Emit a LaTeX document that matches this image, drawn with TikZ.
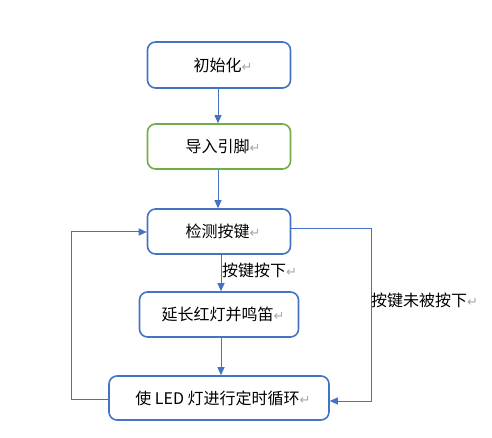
\documentclass[tikz,border=0pt]{standalone}
\usepackage{fontspec}
\setmainfont{Noto Sans CJK SC}
\newfontfamily\symfont{DejaVu Sans}
\usetikzlibrary{arrows.meta}
\definecolor{wblue}{HTML}{4472C4}
\definecolor{wgreen}{HTML}{70AD47}
\newcommand{\pmark}{{\symfont\color{gray!70}\fontsize{13pt}{13pt}\selectfont ↵}}
\begin{document}
\begin{tikzpicture}[x=1pt,y=-1pt,
  box/.style={draw=wblue,line width=1.6pt,rounded corners=8pt,inner sep=0pt,font=\fontsize{16pt}{16pt}\selectfont},
  gbox/.style={box,draw=wgreen},
  conn/.style={draw=wblue,line width=1pt,-{Triangle[length=8pt,width=7pt]}},
  lbl/.style={inner sep=0pt,font=\fontsize{16pt}{16pt}\selectfont,anchor=west}]
\useasboundingbox (0,0) rectangle (492,438);
\node[box,minimum width=143pt,minimum height=46pt] (b1) at (219,65) {\hspace*{8pt}初始化\pmark};
\node[gbox,minimum width=143pt,minimum height=45pt] (b2) at (219,146.5) {\hspace*{8pt}导入引脚\pmark};
\node[box,minimum width=143pt,minimum height=45pt] (b3) at (219,231.5) {\hspace*{8pt}检测按键\pmark};
\node[box,minimum width=159pt,minimum height=45pt] (b4) at (219,314.5) {\hspace*{8pt}延长红灯并鸣笛\pmark};
\node[box,minimum width=220pt,minimum height=44pt] (b5) at (219,398) {\hspace*{8pt}使 LED 灯进行定时循环\pmark};
\coordinate (m1) at (218,0);
\coordinate (m2) at (221,0);
\coordinate (l1) at (71,399);
\coordinate (l2) at (71,232);
\coordinate (r1) at (371,229);
\coordinate (r2) at (371,401);
\draw[conn] (m1 |- b1.south) -- (m1 |- b2.north);
\draw[conn] (m1 |- b2.south) -- (m1 |- b3.north);
\draw[conn] (m2 |- b3.south) -- (m2 |- b4.north);
\draw[conn] (m2 |- b4.south) -- (m2 |- b5.north);
\draw[conn] (b5.west |- l1) -- (l1) -- (l2) -- (b3.west |- l2);
\draw[conn] (b3.east |- r1) -- (r1) -- (r2) -- (b5.east |- r2);
\node[lbl] (t1) at (222,270) {按键按下\pmark};
\node[lbl] (t2) at (371,300) {按键未被按下\pmark};
\end{tikzpicture}
\end{document}
